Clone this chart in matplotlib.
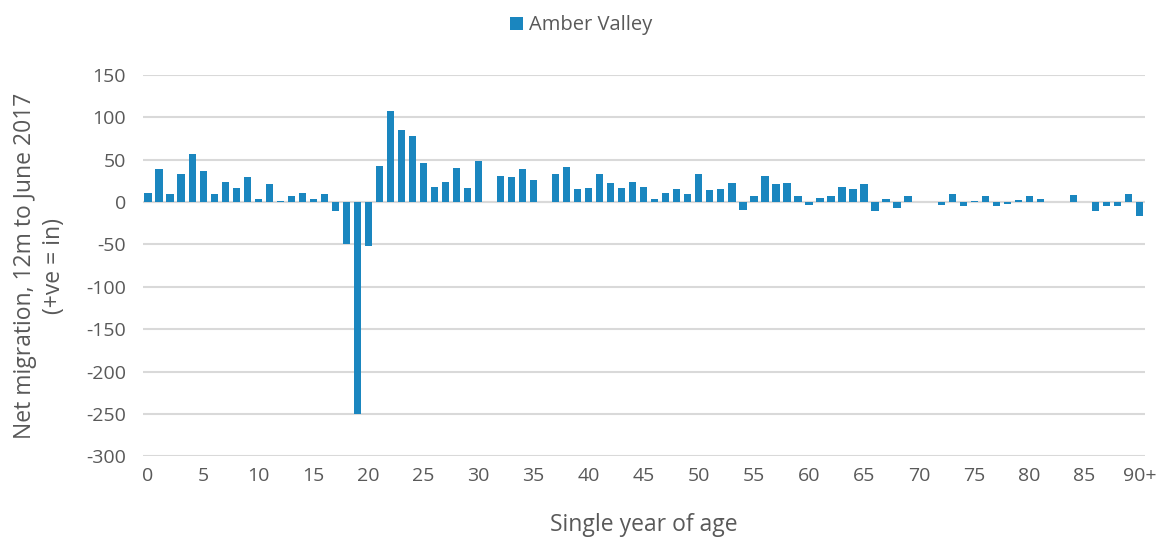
import matplotlib
matplotlib.use("Agg")
import matplotlib.pyplot as plt

matplotlib.rcParams['font.family'] = ['Open Sans', 'DejaVu Sans']
matplotlib.rcParams['axes.unicode_minus'] = False

# net migration by single year of age (0 .. 90+)
ages = list(range(91))
net_migration = [
    11, 39, 9, 33, 57, 37, 9, 24, 17, 30,
    4, 21, 1, 7, 11, 4, 9, -11, -50, -250,
    -52, 43, 107, 85, 78, 46, 18, 24, 40, 17,
    49, 0, 31, 30, 39, 26, 0, 33, 41, 16,
    17, 33, 22, 17, 24, 18, 4, 11, 16, 10,
    33, 14, 15, 23, -9, 7, 31, 21, 22, 7,
    -3, 5, 7, 18, 15, 21, -10, 4, -7, 7,
    0, 0, -3, 10, -5, 1.5, 7, -5, -2, 3,
    7, 4, 0, 0, 8, 0, -11, -5, -5, 10,
    -17,
]
tick_pos = list(range(0, 91, 5))
tick_labels = [str(t) for t in range(0, 90, 5)] + ["90+"]
series_name = "Amber Valley"

bar_color = "#1a86bf"
text_color = "#595959"

fig = plt.figure(figsize=(11.62, 5.38), dpi=100)
ax = fig.add_axes([0.1227, 0.152, 0.8626, 0.7086])

ax.bar(ages, net_migration, width=0.66, color=bar_color,
       linewidth=0, label=series_name, zorder=3)

ax.set_xlim(-0.5, 90.5)
ax.set_ylim(-300, 150)
ax.set_yticks(range(-300, 151, 50))
ax.set_xticks(tick_pos)
ax.set_xticklabels(tick_labels)
ax.grid(axis="y", color="#d9d9d9", linewidth=1.5, zorder=0)
ax.axhline(0, color="#d9d9d9", linewidth=1.5, zorder=1)
for s in ax.spines.values():
    s.set_visible(False)
ax.tick_params(length=0, labelsize=14, colors=text_color, pad=8)
ax.tick_params(axis="y", pad=12)

ax.set_xlabel("Single year of age", fontsize=16.5, color=text_color, labelpad=20)
ax.set_ylabel("Net migration, 12m to June 2017\n(+ve = in)", fontsize=16.5,
              color=text_color, labelpad=14, linespacing=1.3)

leg = fig.legend(loc="upper center", bbox_to_anchor=(0.5, 1.005), frameon=False,
                 fontsize=14.5, handlelength=0.65, handleheight=0.65,
                 handletextpad=0.3)
for t in leg.get_texts():
    t.set_color(text_color)

fig.savefig("out.png", dpi=100)
